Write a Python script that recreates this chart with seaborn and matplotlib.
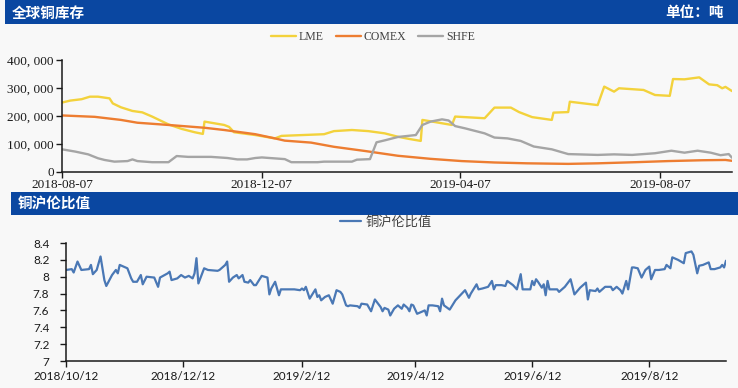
import matplotlib
matplotlib.use("Agg")
import matplotlib.pyplot as plt
import matplotlib.dates as mdates
from matplotlib.patches import Rectangle
from matplotlib.ticker import FuncFormatter, FixedLocator
import pandas as pd
import seaborn as sns

# ---------------- data ----------------
lme_dates = ['2018-08-07', '2018-08-12', '2018-08-19', '2018-08-24', '2018-08-29', '2018-09-05', '2018-09-07',
             '2018-09-12', '2018-09-19', '2018-09-25', '2018-10-01', '2018-10-11', '2018-10-19', '2018-10-27',
             '2018-11-01', '2018-11-02', '2018-11-08', '2018-11-14', '2018-11-17', '2018-11-20', '2018-12-03',
             '2018-12-15', '2018-12-19', '2019-01-14', '2019-01-20', '2019-01-31', '2019-02-10', '2019-02-20',
             '2019-02-28', '2019-03-07', '2019-03-14', '2019-03-15', '2019-04-02', '2019-04-04', '2019-04-22',
             '2019-04-28', '2019-05-08', '2019-05-13', '2019-05-21', '2019-06-02', '2019-06-03', '2019-06-12',
             '2019-06-13', '2019-06-30', '2019-07-04', '2019-07-10', '2019-07-13', '2019-07-28', '2019-08-04',
             '2019-08-13', '2019-08-15', '2019-08-22', '2019-08-31', '2019-09-06', '2019-09-11', '2019-09-14',
             '2019-09-16', '2019-09-20']
lme_values = [248000, 255000, 260000, 269000, 269000, 263000, 245000,
              231000, 218000, 213000, 198000, 170000, 154000, 142000,
              136000, 180000, 174000, 168000, 161000, 142000, 132000,
              120000, 129000, 135000, 146000, 150000, 146000, 138000,
              126000, 118000, 111000, 186000, 168000, 198000, 192000,
              230000, 230000, 214000, 196000, 186000, 212000, 214000,
              251000, 239000, 305000, 287000, 299000, 293000, 275000,
              272000, 332000, 331000, 338000, 313000, 310000, 299000,
              304000, 289000]

comex_dates = ['2018-08-07', '2018-08-27', '2018-09-12', '2018-09-22', '2018-10-11', '2018-11-02', '2018-11-14',
               '2018-12-03', '2018-12-15', '2018-12-21', '2019-01-06', '2019-01-20', '2019-02-08', '2019-02-28',
               '2019-03-20', '2019-04-08', '2019-04-28', '2019-05-18', '2019-06-12', '2019-06-30', '2019-07-23',
               '2019-08-12', '2019-09-02', '2019-09-16', '2019-09-20']
comex_values = [202000, 197000, 186000, 176000, 168000, 158000, 150000,
                135000, 120000, 112000, 105000, 90000, 75000, 58000,
                47000, 39000, 34000, 31000, 29000, 31000, 35000,
                39000, 42000, 43000, 40000]

shfe_dates = ['2018-08-07', '2018-08-15', '2018-08-23', '2018-08-29', '2018-09-02', '2018-09-08', '2018-09-16',
              '2018-09-19', '2018-09-22', '2018-10-01', '2018-10-11', '2018-10-16', '2018-10-23', '2018-11-06',
              '2018-11-16', '2018-11-22', '2018-11-28', '2018-12-03', '2018-12-07', '2018-12-21', '2018-12-25',
              '2019-01-10', '2019-01-14', '2019-01-31', '2019-02-03', '2019-02-11', '2019-02-15', '2019-02-20',
              '2019-02-28', '2019-03-11', '2019-03-15', '2019-03-20', '2019-03-27', '2019-03-31', '2019-04-04',
              '2019-04-10', '2019-04-22', '2019-04-28', '2019-05-06', '2019-05-14', '2019-05-22', '2019-06-02',
              '2019-06-12', '2019-06-30', '2019-07-10', '2019-07-21', '2019-08-04', '2019-08-14', '2019-08-22',
              '2019-08-30', '2019-09-07', '2019-09-13', '2019-09-18', '2019-09-20']
shfe_values = [81000, 73000, 63000, 49000, 43000, 37000, 39000,
               45000, 39000, 35000, 35000, 57000, 54000, 54000,
               50000, 45000, 45000, 50000, 52000, 46000, 35000,
               35000, 37000, 37000, 44000, 46000, 106000, 113000,
               125000, 132000, 168000, 180000, 188000, 184000, 164000,
               156000, 138000, 123000, 120000, 111000, 91000, 81000,
               64000, 61000, 63000, 61000, 67000, 76000, 69000,
               76000, 69000, 60000, 64000, 51000]

ratio_dates = ['2018-10-12', '2018-10-15', '2018-10-16', '2018-10-18', '2018-10-20', '2018-10-24', '2018-10-25',
               '2018-10-26', '2018-10-28', '2018-10-30', '2018-11-01', '2018-11-02', '2018-11-05', '2018-11-07',
               '2018-11-08', '2018-11-09', '2018-11-13', '2018-11-15', '2018-11-16', '2018-11-18', '2018-11-20',
               '2018-11-21', '2018-11-23', '2018-11-27', '2018-11-29', '2018-11-30', '2018-12-04', '2018-12-05',
               '2018-12-06', '2018-12-09', '2018-12-11', '2018-12-13', '2018-12-15', '2018-12-17', '2018-12-18',
               '2018-12-19', '2018-12-20', '2018-12-23', '2018-12-25', '2018-12-30', '2018-12-31', '2019-01-03',
               '2019-01-04', '2019-01-05', '2019-01-07', '2019-01-09', '2019-01-10', '2019-01-12', '2019-01-13',
               '2019-01-15', '2019-01-16', '2019-01-18', '2019-01-19', '2019-01-22', '2019-01-25', '2019-01-26',
               '2019-01-27', '2019-01-29', '2019-01-31', '2019-02-01', '2019-02-08', '2019-02-11', '2019-02-12',
               '2019-02-13', '2019-02-14', '2019-02-16', '2019-02-19', '2019-02-20', '2019-02-21', '2019-02-22',
               '2019-02-24', '2019-02-26', '2019-02-28', '2019-03-02', '2019-03-04', '2019-03-05', '2019-03-07',
               '2019-03-08', '2019-03-09', '2019-03-13', '2019-03-14', '2019-03-15', '2019-03-18', '2019-03-20',
               '2019-03-22', '2019-03-25', '2019-03-26', '2019-03-27', '2019-03-29', '2019-03-30', '2019-04-01',
               '2019-04-03', '2019-04-05', '2019-04-06', '2019-04-08', '2019-04-09', '2019-04-10', '2019-04-11',
               '2019-04-13', '2019-04-15', '2019-04-17', '2019-04-18', '2019-04-19', '2019-04-21', '2019-04-24',
               '2019-04-25', '2019-04-26', '2019-04-27', '2019-04-30', '2019-05-03', '2019-05-08', '2019-05-10',
               '2019-05-11', '2019-05-14', '2019-05-15', '2019-05-17', '2019-05-20', '2019-05-22', '2019-05-23',
               '2019-05-24', '2019-05-27', '2019-05-29', '2019-05-30', '2019-06-02', '2019-06-04', '2019-06-06',
               '2019-06-07', '2019-06-09', '2019-06-11', '2019-06-12', '2019-06-13', '2019-06-14', '2019-06-15',
               '2019-06-17', '2019-06-18', '2019-06-19', '2019-06-20', '2019-06-21', '2019-06-23', '2019-06-25',
               '2019-06-26', '2019-06-29', '2019-07-02', '2019-07-04', '2019-07-07', '2019-07-10', '2019-07-11',
               '2019-07-12', '2019-07-15', '2019-07-16', '2019-07-17', '2019-07-20', '2019-07-23', '2019-07-24',
               '2019-07-26', '2019-07-28', '2019-07-29', '2019-07-31', '2019-08-01', '2019-08-03', '2019-08-04',
               '2019-08-06', '2019-08-08', '2019-08-10', '2019-08-12', '2019-08-13', '2019-08-15', '2019-08-17',
               '2019-08-20', '2019-08-21', '2019-08-23', '2019-08-24', '2019-08-27', '2019-08-30', '2019-08-31',
               '2019-09-03', '2019-09-04', '2019-09-06', '2019-09-07', '2019-09-09', '2019-09-12', '2019-09-13',
               '2019-09-15', '2019-09-18', '2019-09-19', '2019-09-20', '2019-09-21']
ratio_values = [8.08, 8.09, 8.05, 8.18, 8.08, 8.09, 8.14,
                8.03, 8.08, 8.24, 7.96, 7.89, 8.02, 8.08,
                8.04, 8.14, 8.10, 7.98, 7.94, 7.94, 8.02,
                7.91, 8.00, 7.99, 7.88, 7.99, 8.04, 8.06,
                7.96, 7.98, 8.02, 7.99, 8.01, 7.98, 8.04,
                8.22, 7.92, 8.10, 8.08, 8.07, 8.08, 8.14,
                8.18, 7.94, 7.99, 8.02, 7.98, 8.02, 7.94,
                7.93, 7.96, 7.90, 7.90, 8.01, 7.99, 7.79,
                7.86, 7.94, 7.78, 7.85, 7.85, 7.84, 7.86,
                7.84, 7.88, 7.74, 7.85, 7.76, 7.78, 7.72,
                7.76, 7.78, 7.68, 7.84, 7.82, 7.79, 7.66,
                7.65, 7.66, 7.65, 7.63, 7.68, 7.67, 7.59,
                7.73, 7.64, 7.59, 7.63, 7.61, 7.54, 7.62,
                7.66, 7.62, 7.67, 7.63, 7.59, 7.67, 7.66,
                7.56, 7.58, 7.60, 7.54, 7.66, 7.66, 7.65,
                7.59, 7.74, 7.66, 7.61, 7.72, 7.84, 7.75,
                7.80, 7.91, 7.85, 7.86, 7.88, 7.95, 7.85,
                7.90, 7.90, 7.89, 7.95, 7.90, 7.85, 8.03,
                7.85, 7.85, 7.85, 7.95, 7.90, 7.97, 7.94,
                7.87, 7.91, 7.78, 7.95, 7.85, 7.85, 7.85,
                7.82, 7.88, 7.97, 7.79, 7.87, 7.93, 7.73,
                7.84, 7.83, 7.86, 7.82, 7.88, 7.88, 7.84,
                7.88, 7.84, 7.80, 7.95, 7.85, 8.11, 8.11,
                8.10, 7.99, 8.08, 8.12, 7.97, 8.08, 8.08,
                8.09, 8.14, 8.10, 8.23, 8.20, 8.16, 8.28,
                8.30, 8.26, 8.04, 8.13, 8.14, 8.17, 8.09,
                8.09, 8.11, 8.14, 8.11, 8.19]

top_ticks = ['2018-08-07', '2018-12-07', '2019-04-07', '2019-08-07']
top_yticks = [0, 100000, 200000, 300000, 400000]
bottom_ticks = ['2018-10-12', '2018-12-12', '2019-02-12', '2019-04-12', '2019-06-12', '2019-08-12']
bottom_tick_labels = ['2018/10/12', '2018/12/12', '2019/2/12', '2019/4/12', '2019/6/12', '2019/8/12']
bottom_yticks = [7.0, 7.2, 7.4, 7.6, 7.8, 8.0, 8.2, 8.4]

title_top = '全球铜库存'
unit_top = '单位：吨'
title_bottom = '铜沪伦比值'

# ---------------- style ----------------
BG = '#F8F8F8'
BLUE = '#0A47A1'
C_LME = '#F3D23C'
C_COMEX = '#ED7D31'
C_SHFE = '#A5A5A5'
C_RATIO = '#4A78B5'

sns.set_theme(style='white')
plt.rcParams['font.family'] = ['Liberation Serif', 'Noto Sans CJK SC', 'DejaVu Sans']
plt.rcParams['axes.unicode_minus'] = False

W, H = 738, 388
fig = plt.figure(figsize=(W / 100, H / 100), dpi=100, facecolor=BG)

def fx(px):
    return px / W

def fy(py):
    return 1 - py / H

# header bars
fig.add_artist(Rectangle((fx(5), fy(24)), fx(733), 24 / H, transform=fig.transFigure,
                         facecolor=BLUE, edgecolor='none', zorder=0))
fig.add_artist(Rectangle((fx(11), fy(215)), fx(727), 23 / H, transform=fig.transFigure,
                         facecolor=BLUE, edgecolor='none', zorder=0))
fig.text(fx(12), fy(12.5), title_top, color='white', fontsize=10.5, fontweight='bold',
         family='Noto Sans CJK SC', ha='left', va='center')
fig.text(fx(724), fy(12.5), unit_top, color='white', fontsize=10.5, fontweight='bold',
         family='Noto Sans CJK SC', ha='right', va='center')
fig.text(fx(18), fy(204), title_bottom, color='white', fontsize=10.5, fontweight='bold',
         family='Noto Sans CJK SC', ha='left', va='center')

# ---------------- top chart ----------------
ax1 = fig.add_axes([fx(62), fy(172), fx(732) - fx(62), (172 - 60) / H])
ax1.set_facecolor(BG)
df_lme = pd.DataFrame({'date': pd.to_datetime(lme_dates), 'v': lme_values})
df_comex = pd.DataFrame({'date': pd.to_datetime(comex_dates), 'v': comex_values})
df_shfe = pd.DataFrame({'date': pd.to_datetime(shfe_dates), 'v': shfe_values})
sns.lineplot(data=df_lme, x='date', y='v', ax=ax1, color=C_LME, lw=1.7, label='LME')
sns.lineplot(data=df_comex, x='date', y='v', ax=ax1, color=C_COMEX, lw=1.7, label='COMEX')
sns.lineplot(data=df_shfe, x='date', y='v', ax=ax1, color=C_SHFE, lw=1.7, label='SHFE')

ax1.set_xlim(mdates.date2num(pd.Timestamp(top_ticks[0])), mdates.date2num(pd.Timestamp(lme_dates[-1])))
ax1.set_ylim(0, 400000)
ax1.xaxis.set_major_locator(FixedLocator([mdates.date2num(pd.Timestamp(d)) for d in top_ticks]))
ax1.set_xticklabels(top_ticks)
ax1.yaxis.set_major_locator(FixedLocator(top_yticks))
ax1.yaxis.set_major_formatter(FuncFormatter(lambda v, p: f"{int(v):,}".replace(",", ", ")))
ax1.set_xlabel('')
ax1.set_ylabel('')
for s in ['top', 'right']:
    ax1.spines[s].set_visible(False)
for s in ['left', 'bottom']:
    ax1.spines[s].set_color('#1a1a1a')
    ax1.spines[s].set_linewidth(1.1)
ax1.tick_params(axis='both', which='major', direction='out', length=4, width=1, color='#1a1a1a',
                labelcolor='#1a1a1a', bottom=True, left=True)
ax1.tick_params(axis='x', labelsize=9.5, pad=1)
ax1.tick_params(axis='y', labelsize=9.5, pad=2)
for lab in ax1.get_xticklabels() + ax1.get_yticklabels():
    lab.set_family('Liberation Serif')
leg1 = ax1.legend(loc='center', bbox_to_anchor=(fx(373), fy(37)), bbox_transform=fig.transFigure,
                  ncol=3, frameon=False, handlelength=2.1, handletextpad=0.25,
                  columnspacing=1.0, prop={'family': 'Liberation Serif', 'size': 8.5})
for t in leg1.get_texts():
    t.set_color('#404040')

# ---------------- bottom chart ----------------
ax2 = fig.add_axes([fx(66), fy(361), fx(726) - fx(66), (361 - 243) / H])
ax2.set_facecolor(BG)
df_ratio = pd.DataFrame({'date': pd.to_datetime(ratio_dates), 'v': ratio_values})
sns.lineplot(data=df_ratio, x='date', y='v', ax=ax2, color=C_RATIO, lw=1.6, label=title_bottom)
ax2.set_xlim(mdates.date2num(pd.Timestamp(bottom_ticks[0])), mdates.date2num(pd.Timestamp(ratio_dates[-1])))
ax2.set_ylim(7.0, 8.4)
ax2.xaxis.set_major_locator(FixedLocator([mdates.date2num(pd.Timestamp(d)) for d in bottom_ticks]))
ax2.set_xticklabels(bottom_tick_labels)
ax2.yaxis.set_major_locator(FixedLocator(bottom_yticks))
ax2.yaxis.set_major_formatter(FuncFormatter(lambda v, p: f"{v:g}"))
ax2.set_xlabel('')
ax2.set_ylabel('')
for s in ['top', 'right']:
    ax2.spines[s].set_visible(False)
for s in ['left', 'bottom']:
    ax2.spines[s].set_color('#1a1a1a')
    ax2.spines[s].set_linewidth(1.1)
ax2.tick_params(axis='both', which='major', direction='out', length=4, width=1, color='#1a1a1a',
                labelcolor='#1a1a1a', bottom=True, left=True)
ax2.tick_params(axis='x', labelsize=8.5, pad=3)
ax2.tick_params(axis='y', labelsize=8.5, pad=8)
for lab in ax2.get_xticklabels() + ax2.get_yticklabels():
    lab.set_family('Lato')
leg2 = ax2.legend(loc='center', bbox_to_anchor=(fx(386), fy(222)), bbox_transform=fig.transFigure,
                  frameon=False, handlelength=1.6, handletextpad=0.3,
                  prop={'family': 'Noto Sans CJK SC', 'size': 9.5})
for t in leg2.get_texts():
    t.set_color('#404040')

fig.savefig('out.png', dpi=100, facecolor=BG)
